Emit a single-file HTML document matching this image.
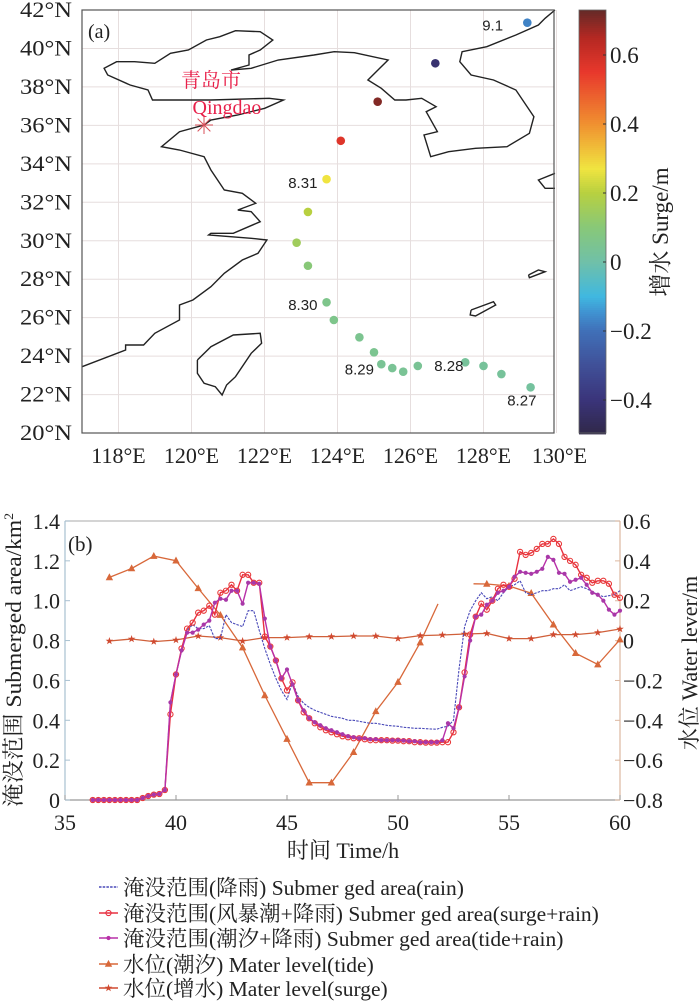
<!DOCTYPE html>
<html><head><meta charset="utf-8"><style>
html,body{margin:0;padding:0;background:#fff;}
svg{display:block;}
text{font-family:"Liberation Serif","Noto Serif CJK SC",serif;fill:#222;}
.sans{font-family:"Liberation Sans","Noto Sans CJK SC",sans-serif;}
</style></head><body>
<svg id="fig" width="700" height="1005" viewBox="0 0 700 1005" xmlns="http://www.w3.org/2000/svg">
  <g id="mapg"></g>
  <g id="cbar"></g>
  <g id="chartb"></g>
  <g id="legend"></g>
</svg>
<script>
// ---------- Map data ----------
const trackLon = [129.2,126.68,125.1,124.09,123.7,123.19,122.88,123.19,123.7,123.9,124.6,125.0,125.2,125.5,125.8,126.2,127.5,128.0,128.49,129.29];
const trackLat = [41.34,39.23,37.23,35.2,33.2,31.5,29.9,28.7,26.8,25.88,24.98,24.2,23.58,23.38,23.19,23.49,23.68,23.49,23.07,22.38];
const trackSurge = [-0.17,-0.42,0.70,0.57,0.27,0.20,0.15,0.10,0.06,0.06,0.05,0.05,0.04,0.04,0.04,0.04,0.03,0.03,0.03,0.02];
const dateLabels = ["9.1","8.31","8.30","8.29","8.28","8.27"];
const dateLabelLon = [128.25,123.05,123.05,124.6,127.05,129.05];
const dateLabelLat = [41.2,33.0,26.65,23.3,23.5,21.7];
const lonTicks = [118,120,122,124,126,128,130];
const latTicks = [20,22,24,26,28,30,32,34,36,38,40,42];
const cbarTicks = [0.6,0.4,0.2,0,-0.2,-0.4];

// ---------- Chart (b) data ----------
const times = [36.25,36.5,36.75,
37,37.25,37.5,37.75, 38,38.25,38.5,38.75, 39,39.25,39.5,39.75, 40,40.25,40.5,40.75,
41,41.25,41.5,41.75, 42,42.25,42.5,42.75, 43,43.25,43.5,43.75, 44,44.25,44.5,44.75,
45,45.25,45.5,45.75, 46,46.25,46.5,46.75, 47,47.25,47.5,47.75, 48,48.25,48.5,48.75,
49,49.25,49.5,49.75, 50,50.25,50.5,50.75, 51,51.25,51.5,51.75, 52,52.25,52.5,52.75,
53,53.25,53.5,53.75, 54,54.25,54.5,54.75, 55,55.25,55.5,55.75, 56,56.25,56.5,56.75,
57,57.25,57.5,57.75, 58,58.25,58.5,58.75, 59,59.25,59.5,59.75, 60];
const areaRain = [0,0,0,
0,0,0,0, 0,0,0.01,0.02, 0.027,0.03,0.05,0.49, 0.63,0.75,0.85,0.88,
0.86,0.86,0.875,0.81, 0.81,0.93,0.89,0.88, 0.87,0.95,0.95,0.85, 0.76,0.68,0.61,0.55,
0.505,0.59,0.52,0.485, 0.465,0.45,0.44,0.43, 0.42,0.415,0.41,0.40, 0.40,0.395,0.39,0.385,
0.385,0.38,0.375,0.372, 0.37,0.365,0.363,0.36, 0.36,0.358,0.356,0.355, 0.365,0.37,0.40,0.66,
0.87,0.95,1.00,1.04, 1.01,1.02,1.00,1.04, 1.07,1.08,1.10,1.04, 1.03,1.04,1.05,1.05,
1.06,1.06,1.08,1.05, 1.06,1.07,1.06,1.045, 1.03,1.02,1.025,1.03, 1.05];
const areaSurgeRain = [0,0,0,
0,0,0,0, 0,0,0.01,0.02, 0.027,0.03,0.05,0.43, 0.63,0.76,0.86,0.89,
0.94,0.95,0.975,0.93, 1.04,1.05,1.08,1.05, 1.13,1.13,1.09,1.09, 0.82,0.77,0.70,0.61,
0.55,0.59,0.50,0.44, 0.41,0.385,0.365,0.35, 0.34,0.33,0.32,0.315, 0.31,0.31,0.305,0.30,
0.30,0.30,0.30,0.298, 0.298,0.295,0.295,0.29, 0.29,0.288,0.288,0.288, 0.29,0.29,0.34,0.465,
0.64,0.83,0.92,0.985, 0.955,1.00,1.06,1.08, 1.07,1.11,1.245,1.23, 1.24,1.26,1.285,1.285,
1.31,1.285,1.22,1.20, 1.18,1.13,1.115,1.09, 1.10,1.10,1.085,1.03, 1.015];
const areaTideRain = [0,0,0,
0,0,0,0, 0,0,0.01,0.02, 0.027,0.03,0.05,0.49, 0.63,0.75,0.84,0.84,
0.855,0.88,0.90,0.99, 1.01,1.005,1.05,1.05, 0.985,1.09,1.09,1.085, 0.91,0.77,0.70,0.61,
0.655,0.58,0.50,0.45, 0.41,0.39,0.375,0.36, 0.35,0.34,0.33,0.32, 0.315,0.31,0.31,0.305,
0.305,0.30,0.30,0.30, 0.30,0.298,0.295,0.295, 0.29,0.29,0.29,0.29, 0.30,0.385,0.36,0.465,
0.62,0.80,0.92,0.93, 0.98,1.00,1.04,1.05, 1.07,1.12,1.145,1.14, 1.135,1.145,1.16,1.22,
1.205,1.14,1.135,1.095, 1.105,1.115,1.08,1.04, 1.03,1.00,0.955,0.93, 0.95];
const tideT = [37,38,39,40,41,42,43,44,45,46,47,48,49,50,51,51.8,null,53.4,54,55,56,57,58,59,60];
const tideV = [0.317,0.362,0.424,0.401,0.262,0.128,-0.035,-0.275,-0.494,-0.713,-0.713,-0.56,-0.355,-0.208,-0.01,0.184,null,0.285,0.284,0.274,0.238,0.08,-0.063,-0.12,0.005];
const surgeT = [37,38,39,40,41,42,43,44,45,46,47,48,49,50,51,52,53,54,55,56,57,58,59,60];
const surgeV = [-0.002,0.008,-0.005,0.003,0.023,0.015,-0.002,0.015,0.015,0.02,0.02,0.023,0.023,0.01,0.025,0.028,0.033,0.036,0.01,0.01,0.03,0.03,0.04,0.058];
const xTicks = [35,40,45,50,55,60];
const yLeftTicks = [0,0.2,0.4,0.6,0.8,1.0,1.2,1.4];
const yRightTicks = [-0.8,-0.6,-0.4,-0.2,0,0.2,0.4,0.6];
const legendLabels = ["淹没范围(降雨) Submer ged area(rain)","淹没范围(风暴潮+降雨) Submer ged area(surge+rain)","淹没范围(潮汐+降雨) Submer ged area(tide+rain)","水位(潮汐) Mater level(tide)","水位(增水) Mater level(surge)"];

const NS="http://www.w3.org/2000/svg";
function mk(tag, attrs, parent){const e=document.createElementNS(NS,tag);for(const k in attrs)e.setAttribute(k,attrs[k]);parent.appendChild(e);return e;}
function fmt(v){ if(v===0) return "0"; let s=Math.abs(v).toFixed(1); return (v<0?"\u2212":"")+s; }

// ---------- Map ----------
const mapg=document.getElementById('mapg');
const lonX=l=>82+(l-117)*36.5;
const latY=a=>10+(42-a)*19.23;
lonTicks.forEach(l=>{const ln=mk('line',{x1:lonX(l),x2:lonX(l),y1:10,y2:433,stroke:'#e6dede','stroke-width':1},mapg);


const t=mk('text',{x:lonX(l)+(l===130?3:0),y:463,'font-size':22,'text-anchor':'middle'},mapg);t.textContent=l+"°E";

});
latTicks.forEach(a=>{const ln=mk('line',{x1:82,x2:554,y1:latY(a),y2:latY(a),stroke:'#e6dede','stroke-width':1},mapg);


const t=mk('text',{x:72,y:latY(a)+7,'font-size':22,'text-anchor':'end',textLength:52,lengthAdjust:'spacingAndGlyphs'},mapg);t.textContent=a+"°N";

});
const cz=pts=>pts.map(p=>(p[0]/2.229).toFixed(1)+","+(p[1]/3).toFixed(1)).join(" ");
const coastMain=[[183,1100],[280,1050],[280,1035],[320,1035],[345,1000],[400,960],[400,915],[430,900],[470,860],[500,820],[540,780],[575,760],[595,720],[560,715],[465,705],[470,700],[520,700],[580,665],[560,635],[530,630],[570,610],[540,580],[500,570],[470,510],[455,470],[400,450],[360,440],[400,395],[455,375],[470,360],[530,345],[590,325],[632,300],[600,295],[470,300],[340,300],[330,270],[290,255],[240,225],[232,205],[260,185],[300,185],[345,190],[380,160],[420,150],[460,120],[490,110],[525,92],[580,95],[608,120],[580,150],[555,165],[555,195],[515,210],[560,205],[620,180],[700,165],[745,155],[790,158],[865,180],[820,240],[850,265],[880,300],[905,300],[940,295],[972,320],[950,335],[975,395],[945,405],[960,470],[1000,455],[1060,445],[1130,440],[1180,400],[1190,350],[1150,270],[1100,240],[1050,225],[1025,185],[1030,155],[1085,140],[1150,105],[1200,75],[1215,55],[1237,30]];
const coast=mk('polyline',{points:cz(coastMain),fill:'none',stroke:'#222','stroke-width':1.4},mapg);


const islands=[
 [[440,1080],[470,1040],[520,1005],[580,1000],[583,1030],[560,1060],[525,1130],[505,1155],[495,1185],[480,1160],[455,1150],[440,1120],[440,1080]],
 [[1050,930],[1100,905],[1105,915],[1060,948],[1048,945],[1050,930]],
 [[1178,825],[1200,810],[1215,815],[1180,833],[1178,825]]];
islands.forEach(p=>{const e=mk('polyline',{points:cz(p),fill:'none',stroke:'#222','stroke-width':1.4},mapg);

});
const jp=mk('polyline',{points:cz([[1237,520],[1200,540],[1215,565],[1237,565]]),fill:'none',stroke:'#222','stroke-width':1.4},mapg);


const frame=mk('rect',{x:82,y:10,width:472,height:423,fill:'none',stroke:'#555','stroke-width':1.2},mapg);



const cstops=[[-0.5,[48,40,72]],[-0.4,[58,52,122]],[-0.3,[64,80,152]],[-0.2,[64,112,184]],[-0.15,[64,144,208]],[-0.1,[64,184,224]],[0,[112,192,168]],[0.1,[136,200,120]],[0.2,[184,208,64]],[0.27,[240,228,64]],[0.4,[240,144,48]],[0.55,[232,56,44]],[0.65,[180,40,34]],[0.74,[90,42,40]]];
function cmap(v){for(let i=0;i<cstops.length-1;i++){const a=cstops[i],b=cstops[i+1];if(v<=b[0]||i===cstops.length-2){let f=Math.max(0,Math.min(1,(v-a[0])/(b[0]-a[0])));const c=a[1].map((x,j)=>Math.round(x+(b[1][j]-x)*f));return `rgb(${c})`;}}}
trackLon.forEach((l,i)=>{const c=mk('circle',{cx:lonX(l),cy:latY(trackLat[i]),r:4.3,fill:cmap(trackSurge[i])},mapg);

});
dateLabels.forEach((s,i)=>{const t=mk('text',{x:lonX(dateLabelLon[i]),y:latY(dateLabelLat[i])+5,'font-size':15,'text-anchor':'middle',class:'sans'},mapg);t.textContent=s;

});
const qx=204,qy=125;
const star=mk('g',{stroke:'#d8505a','stroke-width':1},mapg);


[0,45,90,135].forEach(a=>{const r=a*Math.PI/180;mk('line',{x1:qx-9*Math.cos(r),y1:qy-9*Math.sin(r),x2:qx+9*Math.cos(r),y2:qy+9*Math.sin(r)},star);});
const q1=mk('text',{x:211,y:87,'font-size':20,'text-anchor':'middle',style:'fill:#e8204a'},mapg);q1.textContent="青岛市";


const q2=mk('text',{x:227,y:114,'font-size':20,'text-anchor':'middle',style:'fill:#e8204a'},mapg);q2.textContent="Qingdao";


const pa=mk('text',{x:88,y:38,'font-size':20},mapg);pa.textContent="(a)";



const cb=document.getElementById('cbar');
const cbY=v=>262-v*345;
for(let y=10;y<433;y+=2){const v=(262-y-1)/345;mk('rect',{x:579,y:y,width:27,height:2.4,fill:cmap(v)},cb);}
const cbf=mk('rect',{x:579,y:10,width:27,height:423,fill:'none',stroke:'#666','stroke-width':0.8},cb);


cbarTicks.forEach(v=>{mk('line',{x1:603,x2:606,y1:cbY(v),y2:cbY(v),stroke:'#333'},cb);
const t=mk('text',{x:610,y:cbY(v)+8,'font-size':23},cb);t.textContent=fmt(v);

});
const cbl=mk('text',{x:0,y:0,'font-size':23,'text-anchor':'middle',transform:'translate(668,232) rotate(-90)'},cb);cbl.textContent="增水 Surge/m";



// ---------- Chart b ----------
const cg=document.getElementById('chartb');
const xs=t=>65+(t-35)*22.2;
const yl=v=>800-v*199.3;
const yr=v=>640.6-v*199.3;
const ax=[[65,521,620,521,'#bbb','top-axis'],[65,800,620,800,'#999','x-axis'],[65,521,65,800,'#a8c0d0','left-y-axis'],[620,521,620,800,'#dcb8a0','right-y-axis']];
ax.forEach(a=>{const l=mk('line',{x1:a[0],y1:a[1],x2:a[2],y2:a[3],stroke:a[4],'stroke-width':1.2},cg);

});
xTicks.forEach(t=>{mk('line',{x1:xs(t),x2:xs(t),y1:800,y2:795,stroke:'#999'},cg);
const e=mk('text',{x:xs(t),y:830,'font-size':22,'text-anchor':'middle'},cg);e.textContent=t;

});
yLeftTicks.forEach(v=>{mk('line',{x1:65,x2:70,y1:yl(v),y2:yl(v),stroke:'#a8c0d0'},cg);
const e=mk('text',{x:60,y:yl(v)+8,'font-size':22,'text-anchor':'end'},cg);e.textContent=v===0?"0":v.toFixed(1);

});
yRightTicks.forEach(v=>{mk('line',{x1:615,x2:620,y1:yr(v),y2:yr(v),stroke:'#dcb8a0'},cg);
const e=mk('text',{x:623,y:yr(v)+8,'font-size':22},cg);e.textContent=fmt(v);

});
const pb=mk('text',{x:68,y:551,'font-size':21},cg);pb.textContent="(b)";


const ylab=mk('text',{x:0,y:0,'font-size':22,'text-anchor':'middle',textLength:294,lengthAdjust:'spacingAndGlyphs',transform:'translate(21,660) rotate(-90)'},cg);
ylab.innerHTML='淹没范围 Submerged area/km<tspan dy="-8" font-size="13">2</tspan>';


const yrl=mk('text',{x:0,y:0,'font-size':22,'text-anchor':'middle',transform:'translate(697,663) rotate(-90)'},cg);yrl.textContent="水位 Water lever/m";


const xl=mk('text',{x:343,y:858,'font-size':22,'text-anchor':'middle'},cg);xl.textContent="时间 Time/h";



function pathOf(T,V,yf){let d="",pen=false;T.forEach((t,i)=>{if(t===null||V[i]===null){pen=false;return;}d+=(pen?"L":"M")+xs(t).toFixed(1)+","+yf(V[i]).toFixed(1);pen=true;});return d;}
function triangle(x,y,g,c){return mk('path',{d:`M${x},${y-3.5}L${x+3.2},${y+2.5}L${x-3.2},${y+2.5}Z`,fill:c,stroke:c,'stroke-width':0.6},g);}
function starShape(x,y,g,c){let d="";for(let k=0;k<10;k++){const r=k%2?1.6:4;const a=-Math.PI/2+k*Math.PI/5;d+=(k?"L":"M")+(x+r*Math.cos(a)).toFixed(1)+","+(y+r*Math.sin(a)).toFixed(1);}return mk('path',{d:d+"Z",fill:c},g);}

const tg=mk('g',{},cg);


mk('path',{d:pathOf(tideT,tideV,yr),fill:'none',stroke:'#d8683a','stroke-width':1.3},tg);
tideT.forEach((t,i)=>{if(t!==null&&Number.isInteger(t)){const m=triangle(xs(t),yr(tideV[i]),tg,'#d8683a');

}});
const sg=mk('g',{},cg);


mk('path',{d:pathOf(surgeT,surgeV,yr),fill:'none',stroke:'#d0603a','stroke-width':1.3},sg);
surgeT.forEach((t,i)=>{const m=starShape(xs(t),yr(surgeV[i]),sg,'#d04a30');

});
const rg=mk('g',{},cg);


mk('path',{d:pathOf(times,areaRain,yl),fill:'none',stroke:'#4848b8','stroke-width':1.1,'stroke-dasharray':'2.5,1.2'},rg);
const srg=mk('g',{},cg);


mk('path',{d:pathOf(times,areaSurgeRain,yl),fill:'none',stroke:'#e83040','stroke-width':1.4},srg);
times.forEach((t,i)=>{const m=mk('circle',{cx:xs(t),cy:yl(areaSurgeRain[i]),r:2.6,fill:'none',stroke:'#e83838','stroke-width':1.1},srg);

});
const trg=mk('g',{},cg);


mk('path',{d:pathOf(times,areaTideRain,yl),fill:'none',stroke:'#b830a8','stroke-width':1.4},trg);
times.forEach((t,i)=>{const m=mk('circle',{cx:xs(t),cy:yl(areaTideRain[i]),r:2.1,fill:'#a838a8'},trg);

});

// ---------- Legend ----------
const lg=document.getElementById('legend');
const rowsY=[887,913,938,964,988];
const lcol=['#4848b8','#e83040','#b830a8','#d8683a','#d04a30'];
legendLabels.forEach((s,i)=>{const y=rowsY[i];
const ent=mk('g',{},lg);


mk('line',{x1:99,x2:118,y1:y,y2:y,stroke:lcol[i],'stroke-width':1.4,'stroke-dasharray':i===0?'2.5,1.2':'none'},ent);
if(i===1)mk('circle',{cx:108.5,cy:y,r:2.6,fill:'none',stroke:lcol[i],'stroke-width':1.1},ent);
if(i===2)mk('circle',{cx:108.5,cy:y,r:2.1,fill:lcol[i]},ent);
if(i===3)triangle(108.5,y,ent,lcol[i]);
if(i===4)starShape(108.5,y,ent,lcol[i]);
const t=mk('text',{x:123,y:y+8,'font-size':21.5},ent);t.textContent=s;});
</script>
</body></html>
